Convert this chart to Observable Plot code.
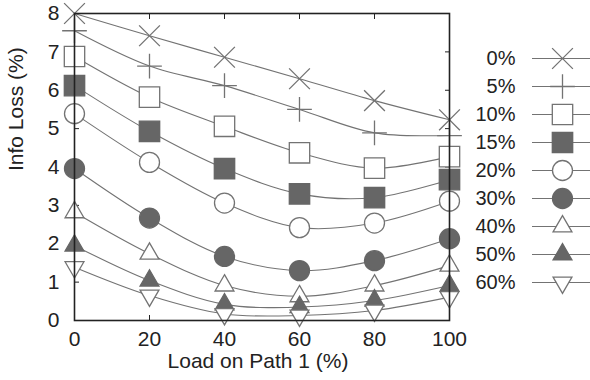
<!DOCTYPE html>
<html>
<head>
<meta charset="utf-8">
<script src="https://cdn.jsdelivr.net/npm/d3@7"></script>
<script src="https://cdn.jsdelivr.net/npm/@observablehq/plot@0.6"></script>
<style>
  html, body { margin: 0; padding: 0; background: white; }
  #wrap { position: relative; width: 590px; height: 380px; overflow: hidden; background: white; }
  #legend { position: absolute; left: 460px; top: 0; }
  #main { position: absolute; left: 0; top: 0; }
</style>
</head>
<body>
<div id="wrap"><div id="legend"></div><div id="main"></div></div>
<script>
const loads = [0, 20, 40, 60, 80, 100];
const seriesNames = ["0%", "5%", "10%", "15%", "20%", "30%", "40%", "50%", "60%"];
const loss0  = [8.00, 7.42, 6.86, 6.30, 5.73, 5.23];
const loss5  = [7.55, 6.63, 6.12, 5.50, 4.89, 4.82];
const loss10 = [6.88, 5.82, 5.06, 4.37, 3.97, 4.27];
const loss15 = [6.12, 4.93, 3.96, 3.30, 3.20, 3.67];
const loss20 = [5.39, 4.12, 3.06, 2.42, 2.54, 3.11];
const loss30 = [3.96, 2.67, 1.67, 1.30, 1.56, 2.13];
const loss40 = [2.82, 1.74, 0.91, 0.63, 0.91, 1.43];
const loss50 = [1.95, 1.04, 0.42, 0.35, 0.52, 0.91];
const loss60 = [1.39, 0.65, 0.17, 0.13, 0.26, 0.61];
const seriesValues = [loss0, loss5, loss10, loss15, loss20, loss30, loss40, loss50, loss60];
const xTicks = [0, 20, 40, 60, 80, 100];
const yTicks = [0, 1, 2, 3, 4, 5, 6, 7, 8];
const xLabel = "Load on Path 1 (%)";
const yLabel = "Info Loss (%)";

const GRAY = "#737373", DARK = "#666666";
const styles = [
  {symbol: "times",    fill: "none",  stroke: GRAY, r: 9.5, rotate: 0},
  {symbol: "plus",     fill: "none",  stroke: GRAY, r: 8,   rotate: 0},
  {symbol: "square",   fill: "white", stroke: GRAY, r: 11.5, rotate: 0},
  {symbol: "square",   fill: DARK,    stroke: DARK, r: 11.5, rotate: 0},
  {symbol: "circle",   fill: "white", stroke: GRAY, r: 10,  rotate: 0},
  {symbol: "circle",   fill: DARK,    stroke: DARK, r: 10,  rotate: 0},
  {symbol: "triangle", fill: "white", stroke: GRAY, r: 7,   rotate: 0},
  {symbol: "triangle", fill: DARK,    stroke: DARK, r: 7,   rotate: 0},
  {symbol: "triangle", fill: "white", stroke: GRAY, r: 7,   rotate: 180}
];

const series = seriesNames.map((name, i) => ({
  name,
  pts: loads.map((x, j) => ({x, y: seriesValues[i][j]})),
  style: styles[i]
}));

const font = "'Liberation Sans', Arial, Helvetica, sans-serif";
const FS = 21, LFS = 20;

const marks = [
  Plot.axisX(xTicks, {anchor: "bottom", tickSize: 0, tickPadding: 11, fontSize: FS, label: null, fill: "#222"}),
  Plot.axisY(yTicks, {anchor: "left", tickSize: 0, tickPadding: 15, fontSize: FS, label: null, fill: "#222"}),
  Plot.axisX(xTicks, {anchor: "bottom", tickSize: -5, tickFormat: () => "", label: null, stroke: "#222"}),
  Plot.axisX(xTicks, {anchor: "top", tickSize: -5, tickFormat: () => "", label: null, stroke: "#222"}),
  Plot.axisY(yTicks, {anchor: "left", tickSize: -5, tickFormat: () => "", label: null, stroke: "#222"}),
  Plot.axisY(yTicks, {anchor: "right", tickSize: -5, tickFormat: () => "", label: null, stroke: "#222"}),
  Plot.text([xLabel], {frameAnchor: "bottom", dy: 47, fontSize: FS, fill: "#222", dx: -4}),
  Plot.text([yLabel], {frameAnchor: "left", dx: -58, dy: 4, rotate: -90, fontSize: FS, fill: "#222"})
];
for (const s of series) {
  marks.push(Plot.line(s.pts, {x: "x", y: "y", stroke: GRAY, strokeWidth: 1.1, curve: "catmull-rom"}));
}
for (const s of series) {
  marks.push(Plot.dot(s.pts, {x: "x", y: "y", symbol: s.style.symbol, r: s.style.r, fill: s.style.fill,
    stroke: s.style.stroke, strokeWidth: 1.3, rotate: s.style.rotate}));
}
marks.push(Plot.frame({stroke: "#222", strokeWidth: 1.6}));

const main = Plot.plot({
  width: 460, height: 380,
  marginLeft: 74, marginRight: 11, marginTop: 13, marginBottom: 60,
  x: {domain: [0, 100], axis: null},
  y: {domain: [0, 8], axis: null},
  style: {fontFamily: font, fontSize: FS + "px", background: "none", overflow: "visible"},
  marks
});
document.getElementById("main").appendChild(main);

const legendMarks = [
  Plot.ruleY(seriesNames, {y: d => d, insetLeft: 72, stroke: GRAY, strokeWidth: 1.1}),
  Plot.text(seriesNames, {y: d => d, text: d => d, frameAnchor: "left", dx: 55, textAnchor: "end", fontSize: LFS, fill: "#222"})
];
seriesNames.forEach((name, i) => {
  const st = styles[i];
  legendMarks.push(Plot.dot([name], {y: d => d, frameAnchor: "left", dx: 102, symbol: st.symbol, r: st.r,
    fill: st.fill, stroke: st.stroke, strokeWidth: 1.3, rotate: st.rotate}));
});
const legend = Plot.plot({
  width: 130, height: 380, margin: 0,
  y: {type: "point", domain: seriesNames, range: [57, 283], padding: 0, axis: null},
  style: {fontFamily: font, fontSize: LFS + "px", background: "none"},
  marks: legendMarks
});
document.getElementById("legend").appendChild(legend);
</script>
</body>
</html>
